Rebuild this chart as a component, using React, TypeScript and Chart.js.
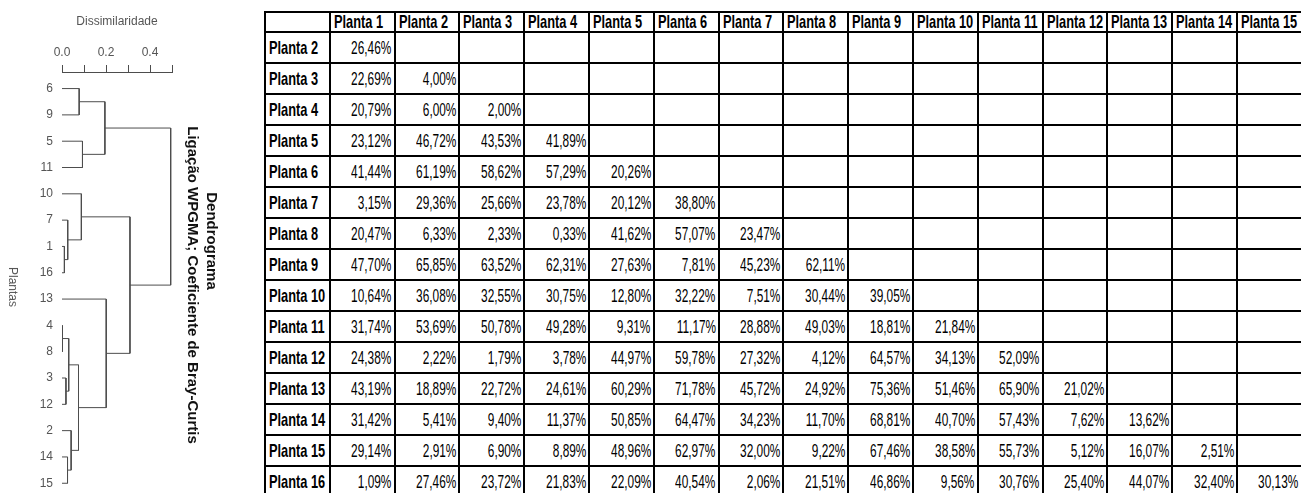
import React, { useEffect, useRef } from 'react';
import { Chart, registerables } from 'chart.js';

Chart.register(...registerables);

// ---- Dendrogram data ----
const leafOrder = [6, 9, 5, 11, 10, 7, 1, 16, 13, 4, 8, 3, 12, 2, 14, 15];
// R-style merge table: negative = leaf label, positive = 1-based merge index
const mergeLeft = [-1, -7, -4, -3, -14, 3, -2, 6, -6, -10, -5, 9, -13, 10, 12];
const mergeRight = [-16, 1, -8, -12, -15, 4, 5, 7, -9, 2, -11, 11, 8, 13, 14];
const mergeHeight = [0.0109, 0.026, 0.0033, 0.0179, 0.0251, 0.0306, 0.0416, 0.075, 0.0781, 0.088, 0.0931, 0.195, 0.201, 0.309, 0.494];
const xTickValues = [0, 0.1, 0.2, 0.3, 0.4, 0.5];
const xTickLabels = ['0.0', '', '0.2', '', '0.4', ''];

// ---- Table data ----
const colHeaders = ['Planta 1', 'Planta 2', 'Planta 3', 'Planta 4', 'Planta 5', 'Planta 6', 'Planta 7', 'Planta 8', 'Planta 9', 'Planta 10', 'Planta 11', 'Planta 12', 'Planta 13', 'Planta 14', 'Planta 15'];
const rowHeaders = ['Planta 2', 'Planta 3', 'Planta 4', 'Planta 5', 'Planta 6', 'Planta 7', 'Planta 8', 'Planta 9', 'Planta 10', 'Planta 11', 'Planta 12', 'Planta 13', 'Planta 14', 'Planta 15', 'Planta 16'];
const dist2 = [26.46];
const dist3 = [22.69, 4.0];
const dist4 = [20.79, 6.0, 2.0];
const dist5 = [23.12, 46.72, 43.53, 41.89];
const dist6 = [41.44, 61.19, 58.62, 57.29, 20.26];
const dist7 = [3.15, 29.36, 25.66, 23.78, 20.12, 38.8];
const dist8 = [20.47, 6.33, 2.33, 0.33, 41.62, 57.07, 23.47];
const dist9 = [47.7, 65.85, 63.52, 62.31, 27.63, 7.81, 45.23, 62.11];
const dist10 = [10.64, 36.08, 32.55, 30.75, 12.8, 32.22, 7.51, 30.44, 39.05];
const dist11 = [31.74, 53.69, 50.78, 49.28, 9.31, 11.17, 28.88, 49.03, 18.81, 21.84];
const dist12 = [24.38, 2.22, 1.79, 3.78, 44.97, 59.78, 27.32, 4.12, 64.57, 34.13, 52.09];
const dist13 = [43.19, 18.89, 22.72, 24.61, 60.29, 71.78, 45.72, 24.92, 75.36, 51.46, 65.9, 21.02];
const dist14 = [31.42, 5.41, 9.4, 11.37, 50.85, 64.47, 34.23, 11.7, 68.81, 40.7, 57.43, 7.62, 13.62];
const dist15 = [29.14, 2.91, 6.9, 8.89, 48.96, 62.97, 32.0, 9.22, 67.46, 38.58, 55.73, 5.12, 16.07, 2.51];
const dist16 = [1.09, 27.46, 23.72, 21.83, 22.09, 40.54, 2.06, 21.51, 46.86, 9.56, 30.76, 25.4, 44.07, 32.4, 30.13];
const distRows = [dist2, dist3, dist4, dist5, dist6, dist7, dist8, dist9, dist10, dist11, dist12, dist13, dist14, dist15, dist16];

const fmtPct = (v: number) => v.toFixed(2).replace('.', ',') + '%';

const LINE = '#4d4d4d';
const TEXT = '#555555';
const SANS = "'Liberation Sans', Arial, Helvetica, sans-serif";

function buildLinks() {
  const nodes: { x: number; y: number }[] = [];
  const pos = (c: number) => (c < 0 ? { x: 0, y: leafOrder.indexOf(-c) } : nodes[c - 1]);
  const links: { x: number; y: number }[][] = [];
  for (let i = 0; i < mergeHeight.length; i++) {
    const L = pos(mergeLeft[i]);
    const R = pos(mergeRight[i]);
    const h = mergeHeight[i];
    links.push([
      { x: L.x, y: L.y },
      { x: h, y: L.y },
      { x: h, y: R.y },
      { x: R.x, y: R.y },
    ]);
    nodes.push({ x: h, y: (L.y + R.y) / 2 });
  }
  return links;
}

function Dendrogram() {
  const ref = useRef<HTMLCanvasElement | null>(null);
  useEffect(() => {
    if (!ref.current) return;
    const links = buildLinks();
    const chart = new Chart(ref.current, {
      type: 'scatter',
      data: {
        datasets: links.map((pts) => ({
          data: pts,
          showLine: true,
          borderColor: LINE,
          borderWidth: 1,
          pointRadius: 0,
          pointHoverRadius: 0,
          fill: false,
          tension: 0,
        })),
      },
      options: {
        animation: false,
        responsive: true,
        maintainAspectRatio: false,
        layout: { padding: { left: 0, right: 78, top: 0, bottom: 0 } },
        plugins: { legend: { display: false }, tooltip: { enabled: false } },
        scales: {
          x: {
            type: 'linear',
            position: 'top',
            min: 0,
            max: 0.5,
            afterBuildTicks: (scale: any) => {
              scale.ticks = xTickValues.map((v) => ({ value: v }));
            },
            afterFit: (scale: any) => {
              scale.height = 72;
              scale.paddingLeft = 0;
              scale.paddingRight = 0;
            },
            ticks: {
              autoSkip: false,
              maxRotation: 0,
              padding: 5,
              color: TEXT,
              font: { family: SANS, size: 12 },
              callback: (_v: any, i: number) => xTickLabels[i],
            },
            grid: { drawOnChartArea: false, drawTicks: true, tickLength: 7, color: LINE, lineWidth: 1 },
            border: { display: true, color: LINE, width: 1 },
            title: {
              display: true,
              text: 'Dissimilaridade',
              color: TEXT,
              font: { family: SANS, size: 12 },
              padding: { top: 14, bottom: 0 },
            },
          },
          y: {
            type: 'linear',
            reverse: true,
            min: -0.63,
            max: 15.37,
            afterBuildTicks: (scale: any) => {
              scale.ticks = leafOrder.map((_, i) => ({ value: i }));
            },
            afterFit: (scale: any) => {
              scale.width = 62;
              scale.paddingTop = 0;
              scale.paddingBottom = 0;
            },
            ticks: {
              autoSkip: false,
              padding: 9,
              color: TEXT,
              font: { family: SANS, size: 12 },
              callback: (v: any) => String(leafOrder[Math.round(Number(v))]),
            },
            grid: { display: false, drawTicks: false },
            border: { display: false },
          },
        },
      },
    } as any);
    return () => chart.destroy();
  }, []);
  return (
    <div style={{ position: 'absolute', left: 0, top: 0, width: 250, height: 493 }}>
      <canvas ref={ref} />
    </div>
  );
}

const rotated = (cx: number, cy: number, extra: React.CSSProperties): React.CSSProperties => ({
  position: 'absolute',
  left: cx,
  top: cy,
  transform: 'translate(-50%, -50%) rotate(90deg)',
  whiteSpace: 'nowrap',
  lineHeight: 1,
  ...extra,
});

const cellBase: React.CSSProperties = {
  border: '2px solid #000',
  padding: 0,
  overflow: 'hidden',
  whiteSpace: 'nowrap',
  verticalAlign: 'middle',
};

const txt = (s: string, bold: boolean, right: boolean) => (
  <div
    style={{
      display: 'flex',
      justifyContent: right ? 'flex-end' : 'flex-start',
      overflow: 'hidden',
      padding: right ? '0 2px 0 0' : '0 0 0 3px',
    }}
  >
    <span
      style={{
        display: 'inline-block',
        flex: 'none',
        transformOrigin: right ? 'right center' : 'left center',
        transform: bold ? 'scale(0.8, 1.12)' : 'scale(0.74, 1.12)',
        fontFamily: SANS,
        fontSize: 16,
        fontWeight: bold ? 700 : 400,
        color: '#000',
        lineHeight: '18px',
      }}
    >
      {s}
    </span>
  </div>
);

function DistanceTable() {
  const colW = 64.8;
  return (
    <table
      style={{
        position: 'absolute',
        left: 264,
        top: 11,
        borderCollapse: 'collapse',
        tableLayout: 'fixed',
        width: colW * 16,
      }}
    >
      <colgroup>
        {Array.from({ length: 16 }).map((_, i) => (
          <col key={i} style={{ width: colW }} />
        ))}
      </colgroup>
      <tbody>
        <tr style={{ height: 20 }}>
          <td style={{ ...cellBase }}></td>
          {colHeaders.map((h) => (
            <td key={h} style={{ ...cellBase }}>
              {txt(h, true, false)}
            </td>
          ))}
        </tr>
        {rowHeaders.map((r, ri) => (
          <tr key={r} style={{ height: 31 }}>
            <td style={{ ...cellBase }}>{txt(r, true, false)}</td>
            {colHeaders.map((_, ci) => {
              const v = distRows[ri][ci];
              return (
                <td key={ci} style={{ ...cellBase }}>
                  {v !== undefined ? txt(fmtPct(v), false, true) : null}
                </td>
              );
            })}
          </tr>
        ))}
      </tbody>
    </table>
  );
}

export default function App() {
  return (
    <div style={{ position: 'fixed', left: 0, top: 0, width: 1301, height: 493, overflow: 'hidden', background: '#fff' }}>
      <Dendrogram />
      <div style={rotated(13, 287, { fontFamily: SANS, fontSize: 12, color: TEXT })}>Plantas</div>
      <div style={rotated(211.5, 241, { fontFamily: SANS, fontSize: 15, fontWeight: 700, color: '#111' })}>Dendrograma</div>
      <div style={rotated(193, 285, { fontFamily: SANS, fontSize: 15, fontWeight: 700, color: '#111' })}>
        Ligação WPGMA; Coeficiente de Bray-Curtis
      </div>
      <DistanceTable />
    </div>
  );
}
